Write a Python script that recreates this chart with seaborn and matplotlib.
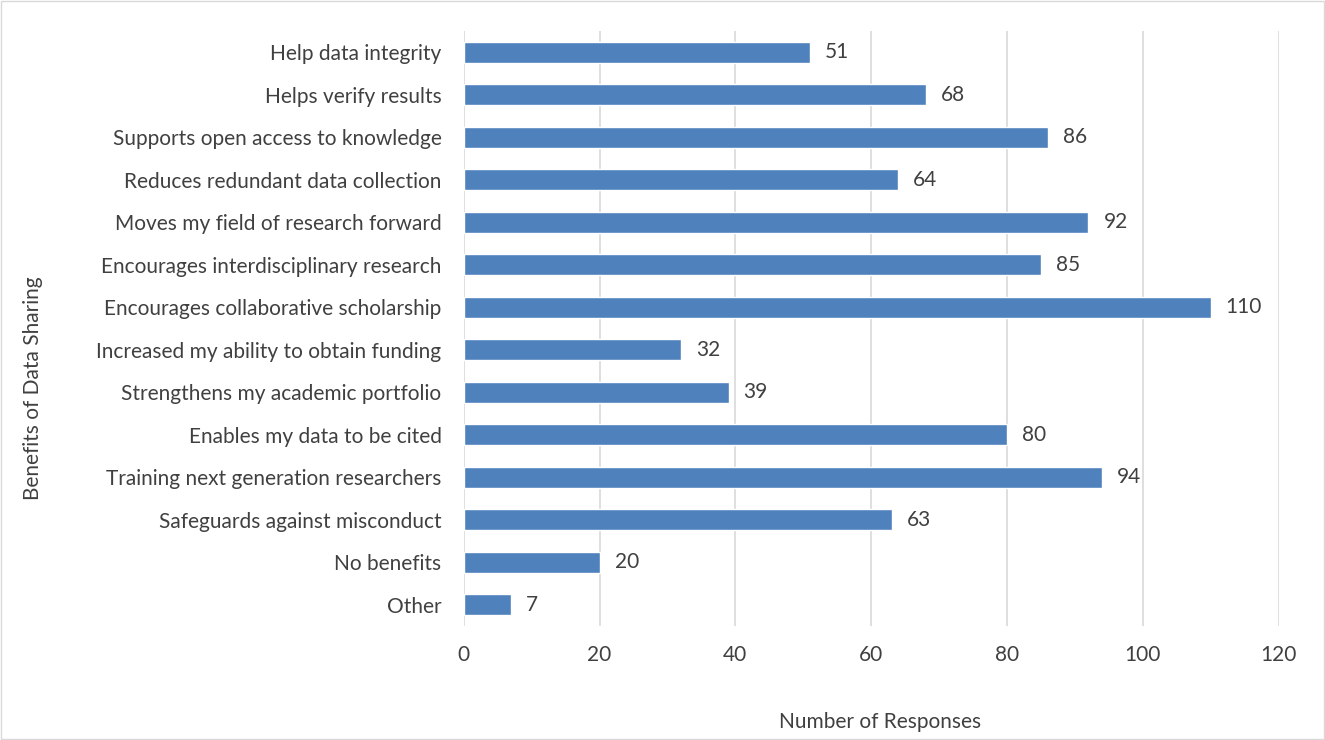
import matplotlib
matplotlib.use("Agg")
import matplotlib.pyplot as plt
import seaborn as sns
import pandas as pd
from matplotlib.patches import Rectangle

categories = [
    "Help data integrity",
    "Helps verify results",
    "Supports open access to knowledge",
    "Reduces redundant data collection",
    "Moves my field of research forward",
    "Encourages interdisciplinary research",
    "Encourages collaborative scholarship",
    "Increased my ability to obtain funding",
    "Strengthens my academic portfolio",
    "Enables my data to be cited",
    "Training next generation researchers",
    "Safeguards against misconduct",
    "No benefits",
    "Other",
]
responses = [51, 68, 86, 64, 92, 85, 110, 32, 39, 80, 94, 63, 20, 7]
x_ticks = [0, 20, 40, 60, 80, 100, 120]

df = pd.DataFrame({"Benefit": categories, "Responses": responses})

sns.set_theme(style="white")
plt.rcParams["font.family"] = ["Lato", "DejaVu Sans"]
text_color = "#404040"
fs = 15

fig = plt.figure(figsize=(13.25, 7.4), dpi=100)
ax = fig.add_axes([0.350, 0.154, 0.615, 0.804])

sns.barplot(data=df, x="Responses", y="Benefit", orient="h",
            color="#4F81BD", saturation=1, width=0.5, ax=ax, zorder=3)

for i, v in enumerate(responses):
    ax.text(v + 2.2, i, str(v), va="center", ha="left",
            fontsize=fs, color=text_color)

ax.set_xlim(0, 120)
ax.set_ylim(13.5, -0.5)
ax.set_xticks(x_ticks)
ax.set_xticklabels([str(t) for t in x_ticks], fontsize=fs, color=text_color)
ax.tick_params(axis="y", labelsize=fs, labelcolor=text_color, length=0, pad=16)
ax.tick_params(axis="x", length=0, pad=14)
ax.xaxis.grid(True, color="#D9D9D9", linewidth=1.2, zorder=0)
ax.yaxis.grid(False)
for s in ax.spines.values():
    s.set_visible(False)

ax.set_xlabel("")
ax.set_ylabel("")
fig.text(0.664, 0.025, "Number of Responses", ha="center", va="center",
         fontsize=fs, color=text_color)
fig.text(0.025, 0.476, "Benefits of Data Sharing", ha="center", va="center",
         rotation=90, fontsize=fs, color=text_color)

fig.patches.append(Rectangle((0.001, 0.001), 0.998, 0.998, transform=fig.transFigure,
                             fill=False, edgecolor="#D9D9D9", linewidth=1))

fig.savefig("out.png", dpi=100)
